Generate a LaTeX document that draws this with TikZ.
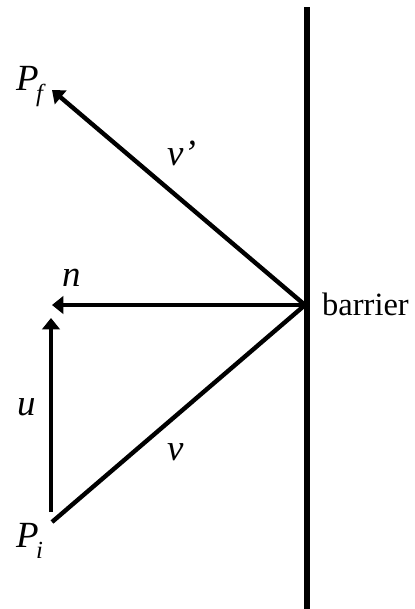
\documentclass[tikz,border=0pt]{standalone}
\usepackage{fontspec}
\setmainfont{Liberation Serif}
\usetikzlibrary{arrows.meta}
\newcommand{\lbl}[1]{{\fontsize{21}{23}\selectfont\itshape #1}}
\newcommand{\sub}[1]{\raisebox{-6.5pt}{\fontsize{14}{16}\selectfont\itshape #1}}

\begin{document}
\begin{tikzpicture}[x=0.02cm,y=-0.02cm,line width=2.5pt,
  vec/.style={-{Triangle[length=6.5pt,width=10pt]}},
  lab/.style={inner sep=0pt,anchor=base west}]
  \useasboundingbox (0,0) rectangle (414,609);
  \coordinate (Top) at (307,7);
  \coordinate (Bot) at (307,609);
  \coordinate (H)   at (305,305);
  \coordinate (Pf)  at (52,90);
  \coordinate (N)   at (52,305);
  \coordinate (Pi)  at (52,522);
  \coordinate (U0)  at (51,512);
  \coordinate (U1)  at (51,318);

  \draw[line width=3.3pt] (Top) -- (Bot);
  \draw[vec] (H) -- (Pf);
  \draw[vec] (H) -- (N);
  \draw (H) -- (Pi);
  \draw[vec] (U0) -- (U1);

  \node[lab] (pf) at (14,90)   {\lbl{P}\kern-1.5pt\sub{f}};
  \node[lab] (pi) at (14,547)  {\lbl{P}\kern-1.5pt\sub{i}};
  \node[lab] (n)  at (60,286)  {\lbl{n}};
  \node[lab] (u)  at (15,415)  {\lbl{u}};
  \node[lab] (vp) at (165,165) {\lbl{v’}};
  \node[lab] (v)  at (165,460) {\lbl{v}};
  \node[lab] (b)  at (320,315) {\fontsize{18.5}{20}\selectfont barrier};
\end{tikzpicture}
\end{document}
